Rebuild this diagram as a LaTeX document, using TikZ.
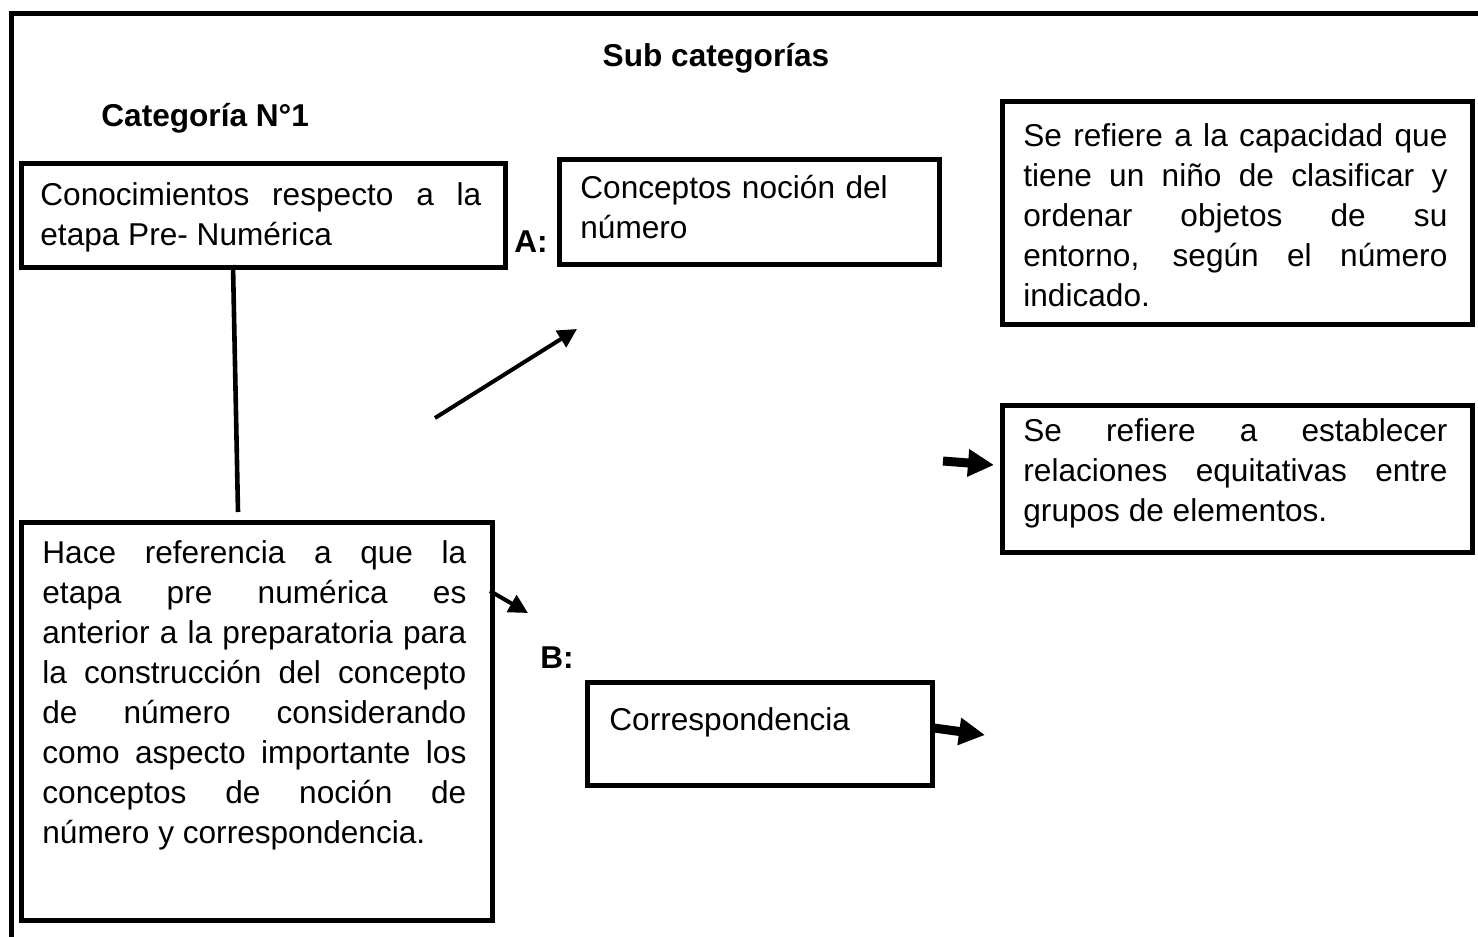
\documentclass[tikz,border=0pt]{standalone}
\usepackage{fontspec}
\setmainfont{Liberation Sans}
\usetikzlibrary{arrows.meta}
\newcommand{\bodyfont}{\fontsize{15.8pt}{20pt}\selectfont}
\begin{document}
\begin{tikzpicture}[x=0.5pt,y=-0.5pt,
  box/.style={draw, line width=2.3pt, inner sep=0pt, anchor=north west},
  txt/.style={inner sep=0pt, anchor=base west, font=\bodyfont},
  jtxt/.style={txt, align=justify},
  ttl/.style={inner sep=0pt, anchor=base west, font=\bodyfont\bfseries},
  conn/.style={line width=2pt, -{Triangle[length=9.5pt,width=9.5pt]}},
  fat/.style={line width=4.5pt, -{Triangle[length=13pt,width=13pt]}},
  plain/.style={line width=2.3pt}]
\useasboundingbox (0,0) rectangle (1478,937);
\hyphenpenalty=10000
% outer frame (top and left edges only)
\draw[line width=2.5pt] (11,937) -- (11,13) -- (1478,13);
% titles
\node[ttl, anchor=base] (sub) at (716,66) {Sub categorías};
\node[ttl] (cat) at (101,126) {Categoría N°1};
\node[ttl] (la) at (514,252) {A:};
\node[ttl] (lb) at (540,668) {B:};
% boxes
\node[box, minimum width=242pt, minimum height=52pt] (b1) at (19,161) {};
\node[box, minimum width=190pt, minimum height=52.5pt] (bA) at (557,157) {};
\node[box, minimum width=235pt, minimum height=111.5pt] (bTR) at (1000,99) {};
\node[box, minimum width=235pt, minimum height=73.5pt] (bMR) at (1000,403) {};
\node[box, minimum width=235.5pt, minimum height=199pt] (bBig) at (19,520) {};
\node[box, minimum width=172.5pt, minimum height=51.5pt] (bC) at (585,680) {};
% texts
\node[jtxt, text width=220.5pt] (t1) at (40,205) {Conocimientos respecto a la\linebreak etapa Pre- Numérica};
\node[txt, text width=170pt, align=left] (tA) at (580,198) {Conceptos noción del\\número};
\node[jtxt, text width=212pt] (tTR) at (1023,146) {Se refiere a la capacidad que\linebreak tiene un niño de clasificar y\linebreak ordenar objetos de su\linebreak entorno, según el número\linebreak indicado.};
\node[jtxt, text width=212pt] (tMR) at (1023,441) {Se refiere a establecer\linebreak relaciones equitativas entre\linebreak grupos de elementos.};
\node[jtxt, text width=212pt] (tBig) at (42,563) {Hace referencia a que la\linebreak etapa pre numérica es\linebreak anterior a la preparatoria para\linebreak la construcción del concepto\linebreak de número considerando\linebreak como aspecto importante los\linebreak conceptos de noción de\linebreak número y correspondencia.};
\node[txt] (tC) at (609,730) {Correspondencia};
% connectors
\coordinate (l1) at (233,265);
\coordinate (l2) at (238,512);
\draw[plain] (l1) -- (l2);
\coordinate (a1s) at (435,418);
\coordinate (a1e) at (577,329);
\draw[conn] (a1s) -- (a1e);
\coordinate (a3s) at (490,591);
\coordinate (a3e) at (528,613);
\draw[conn] (a3s) -- (a3e);
\coordinate (a2s) at (943,461);
\coordinate (a2e) at (994,465);
\draw[fat] (a2s) -- (a2e);
\coordinate (a4s) at (934,728);
\coordinate (a4e) at (985,735);
\draw[fat] (a4s) -- (a4e);
\end{tikzpicture}
\end{document}
